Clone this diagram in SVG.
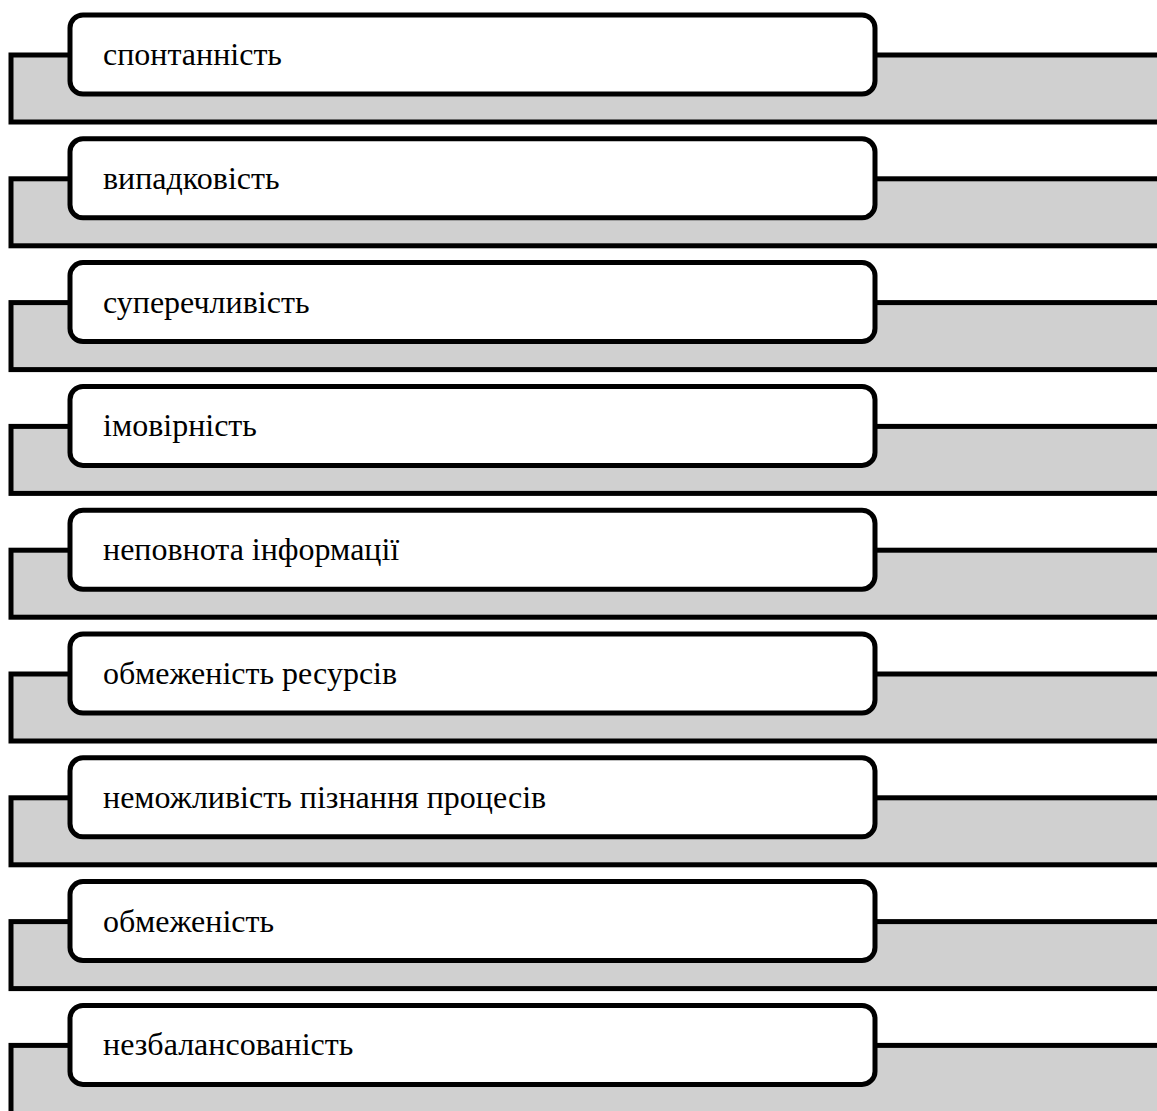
<svg xmlns="http://www.w3.org/2000/svg" width="1157" height="1111" viewBox="0 0 1157 1111">
<style>
.band{fill:#d0d0d0;stroke:#000;stroke-width:5}
.box{fill:#fff;stroke:#000;stroke-width:5}
.lbl{font-family:"Liberation Serif","Times New Roman",serif;font-size:32px;fill:#000}
</style>
<rect width="1157" height="1111" fill="#fff"/>
<g id="row1" transform="translate(0,0)"><rect class="band" x="11" y="55" width="1200" height="67"/><rect class="box" x="70" y="15" width="805" height="79" rx="13"/><text class="lbl" x="103" y="65">спонтанність</text></g>
<g id="row2" transform="translate(0,123.8)"><rect class="band" x="11" y="55" width="1200" height="67"/><rect class="box" x="70" y="15" width="805" height="79" rx="13"/><text class="lbl" x="103" y="65">випадковість</text></g>
<g id="row3" transform="translate(0,247.6)"><rect class="band" x="11" y="55" width="1200" height="67"/><rect class="box" x="70" y="15" width="805" height="79" rx="13"/><text class="lbl" x="103" y="65">суперечливість</text></g>
<g id="row4" transform="translate(0,371.4)"><rect class="band" x="11" y="55" width="1200" height="67"/><rect class="box" x="70" y="15" width="805" height="79" rx="13"/><text class="lbl" x="103" y="65">імовірність</text></g>
<g id="row5" transform="translate(0,495.2)"><rect class="band" x="11" y="55" width="1200" height="67"/><rect class="box" x="70" y="15" width="805" height="79" rx="13"/><text class="lbl" x="103" y="65">неповнота інформації</text></g>
<g id="row6" transform="translate(0,619)"><rect class="band" x="11" y="55" width="1200" height="67"/><rect class="box" x="70" y="15" width="805" height="79" rx="13"/><text class="lbl" x="103" y="65">обмеженість ресурсів</text></g>
<g id="row7" transform="translate(0,742.8)"><rect class="band" x="11" y="55" width="1200" height="67"/><rect class="box" x="70" y="15" width="805" height="79" rx="13"/><text class="lbl" x="103" y="65">неможливість пізнання процесів</text></g>
<g id="row8" transform="translate(0,866.6)"><rect class="band" x="11" y="55" width="1200" height="67"/><rect class="box" x="70" y="15" width="805" height="79" rx="13"/><text class="lbl" x="103" y="65">обмеженість</text></g>
<g id="row9" transform="translate(0,990.4)"><rect class="band" x="11" y="55" width="1200" height="90"/><rect class="box" x="70" y="15" width="805" height="79" rx="13"/><text class="lbl" x="103" y="65">незбалансованість</text></g>
</svg>
